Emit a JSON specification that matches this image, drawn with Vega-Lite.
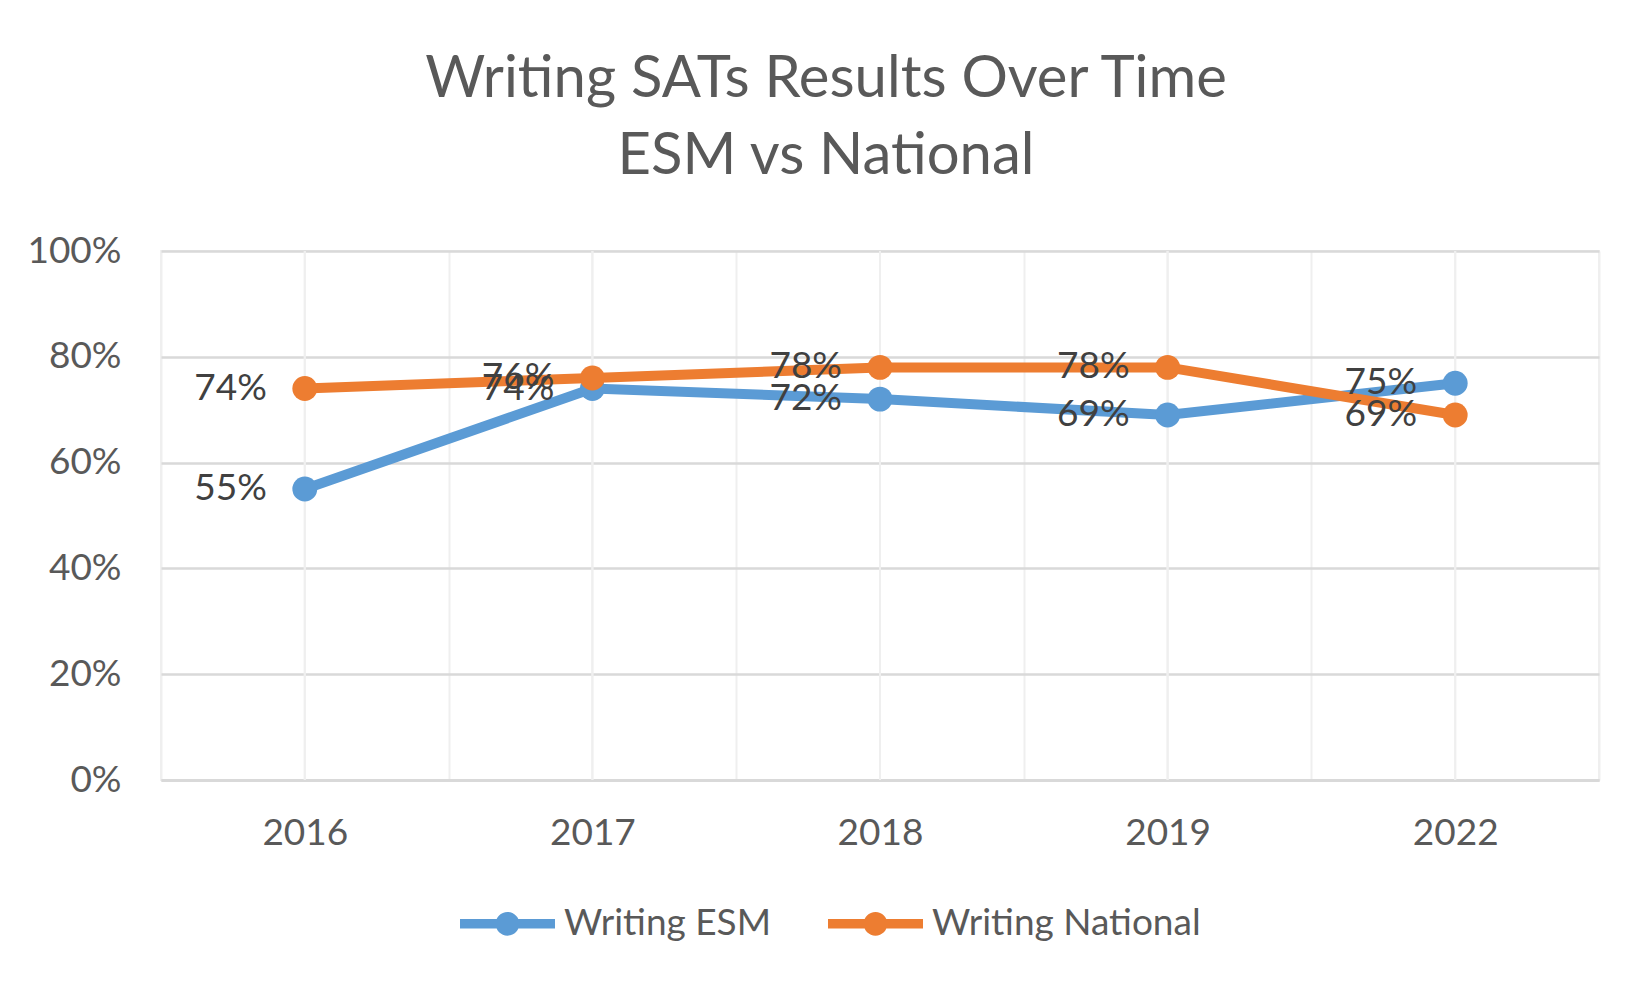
{
  "$schema": "https://vega.github.io/schema/vega-lite/v6.json",
  "width": 1438,
  "height": 529,
  "autosize": {"type": "none"},
  "padding": {"left": 161, "top": 251, "right": 53, "bottom": 212},
  "background": "white",
  "title": {
    "text": ["Writing SATs Results Over Time", "ESM vs National"],
    "fontSize": 58,
    "lineHeight": 77,
    "font": "Lato",
    "fontWeight": "normal",
    "color": "#595959",
    "anchor": "middle",
    "dx": -54,
    "offset": 46
  },
  "config": {
    "view": {"stroke": "#EFEFEF", "strokeWidth": 2},
    "font": "Lato",
    "axis": {"labelFont": "Lato", "labelColor": "#595959", "labelFontSize": 37, "title": null},
    "legend": {"labelFont": "Lato", "labelColor": "#595959", "labelFontSize": 37}
  },
  "data": {
    "values": [
      {"year": "2016", "series": "Writing ESM", "score": 0.55},
      {"year": "2017", "series": "Writing ESM", "score": 0.74},
      {"year": "2018", "series": "Writing ESM", "score": 0.72},
      {"year": "2019", "series": "Writing ESM", "score": 0.69},
      {"year": "2022", "series": "Writing ESM", "score": 0.75},
      {"year": "2016", "series": "Writing National", "score": 0.74},
      {"year": "2017", "series": "Writing National", "score": 0.76},
      {"year": "2018", "series": "Writing National", "score": 0.78},
      {"year": "2019", "series": "Writing National", "score": 0.78},
      {"year": "2022", "series": "Writing National", "score": 0.69}
    ]
  },
  "encoding": {
    "x": {
      "field": "year",
      "type": "ordinal",
      "bandPosition": 0.5,
      "scale": {"type": "band", "paddingInner": 0, "paddingOuter": 0},
      "axis": {
        "labelAngle": 0,
        "tickBand": "extent",
        "grid": true,
        "gridColor": "#EFEFEF",
        "gridWidth": 2,
        "ticks": false,
        "domainColor": "#D9D9D9",
        "domainWidth": 3,
        "labelPadding": 35
      }
    }
  },
  "layer": [
    {
      "mark": {"type": "rule", "color": "#EFEFEF", "strokeWidth": 2},
      "encoding": {}
    },
    {
      "mark": {
        "type": "line",
        "strokeWidth": 10,
        "point": {"filled": true, "size": 620, "opacity": 1}
      },
      "encoding": {
        "y": {
          "field": "score",
          "type": "quantitative",
          "scale": {"domain": [0, 1]},
          "axis": {
            "values": [0, 0.2, 0.4, 0.6, 0.8, 1],
            "format": ".0%",
            "gridColor": "#D9D9D9",
            "gridWidth": 2.5,
            "domain": false,
            "ticks": false,
            "labelPadding": 40
          }
        },
        "color": {
          "field": "series",
          "type": "nominal",
          "scale": {"domain": ["Writing ESM", "Writing National"], "range": ["#5B9BD5", "#ED7D31"]},
          "legend": {
            "title": null,
            "orient": "none",
            "legendX": 299,
            "legendY": 625,
            "direction": "horizontal",
            "symbolType": "M-1,-0.1L1,-0.1L1,0.1L-1,0.1Z M0.25,0A0.25,0.25,0,1,1,-0.25,0A0.25,0.25,0,1,1,0.25,0Z",
            "symbolSize": 9025,
            "symbolStrokeWidth": 0,
            "labelOffset": 9,
            "labelLimit": 0,
            "columnPadding": 56,
            "encode": {
              "symbols": {"update": {"fill": {"scale": "color", "field": "value"}, "strokeWidth": {"value": 0}, "opacity": {"value": 1}}}
            }
          }
        }
      }
    },
    {
      "mark": {"type": "text", "align": "right", "baseline": "middle", "dx": -38, "fontSize": 37, "font": "Lato", "color": "#404040"},
      "encoding": {
        "y": {"field": "score", "type": "quantitative"},
        "text": {"field": "score", "type": "quantitative", "format": ".0%"}
      }
    }
  ]
}
